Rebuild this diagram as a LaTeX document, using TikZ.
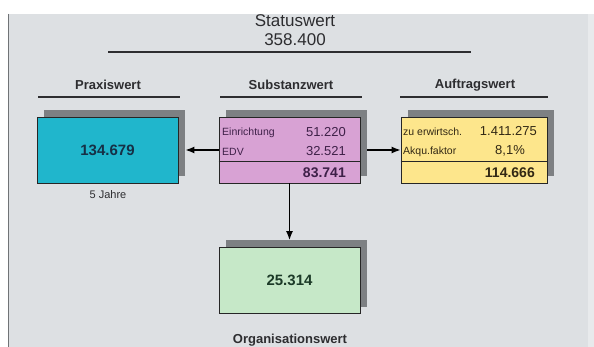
\documentclass[tikz,border=0pt]{standalone}
\usepackage{fontspec}
\setmainfont{Liberation Sans}
\usetikzlibrary{shadows,arrows.meta}

\definecolor{bggrey}{RGB}{221,224,227}
\definecolor{edgegrey}{RGB}{232,234,236}
\definecolor{shadowgrey}{RGB}{125,128,131}
\definecolor{headtext}{RGB}{45,45,48}
\definecolor{praxfill}{RGB}{32,182,204}
\definecolor{praxtext}{RGB}{22,48,70}
\definecolor{substfill}{RGB}{216,162,212}
\definecolor{substtext}{RGB}{62,32,72}
\definecolor{auftfill}{RGB}{253,230,140}
\definecolor{aufttext}{RGB}{50,40,20}
\definecolor{orgfill}{RGB}{198,232,200}
\definecolor{orgtext}{RGB}{28,58,40}

\tikzset{
  valbox/.style={draw=black!85, line width=0.9pt, minimum width=141pt,
    minimum height=66pt, inner sep=0pt,
    drop shadow={shadow xshift=7pt, shadow yshift=7pt, fill=shadowgrey, opacity=1}},
  head/.style={font=\bfseries\fontsize{13}{15}\selectfont, text=headtext},
  total/.style={font=\bfseries\fontsize{15}{17}\selectfont},
  rowlbl/.style={font=\fontsize{10.5}{12}\selectfont, anchor=west, inner sep=0pt},
  rowval/.style={font=\fontsize{13}{15}\selectfont, anchor=east, inner sep=0pt},
  rule/.style={line width=1.2pt, headtext},
  conn/.style={-{Latex[length=9pt,width=7pt]}, line width=1.3pt, black},
}

\begin{document}
\begin{tikzpicture}[x=1pt,y=-1pt]
\useasboundingbox (0,0) rectangle (594,347);
\clip (0,0) rectangle (594,347);
\fill[white] (0,0) rectangle (594,347);
\fill[bggrey] (9,14) rectangle (594,347);
\fill[edgegrey] (588,14) rectangle (594,347);
\draw[shadowgrey!90!black, line width=1pt] (8.5,14) -- (8.5,347);

% top
\node[font=\fontsize{17}{19}\selectfont, text=headtext](status) at (295,21){Statuswert};
\node[font=\fontsize{17}{19}\selectfont, text=headtext](statusval) at (295,40){358.400};
\draw[rule] (108,52) -- (471,52);

% headings
\node[head](praxhead) at (108,85){Praxiswert};
\node[head](substhead) at (291,85){Substanzwert};
\node[head](aufthead) at (475,85){Auftragswert};
\draw[rule] (38,97) -- (180,97);
\draw[rule] (220,97) -- (362,97);
\draw[rule] (400,97) -- (548,97);

% boxes
\node[valbox, fill=praxfill, text=praxtext, total](prax) at (107.5,150){134.679};
\node[valbox, fill=substfill](subst) at (289.5,150){};
\node[valbox, fill=auftfill, minimum width=146pt](auft) at (474,150){};
\node[valbox, fill=orgfill, text=orgtext, total](org) at (289.5,280.5){25.314};

\draw[line width=0.9pt, black!85] ([yshift=22pt]subst.south west) -- ([yshift=22pt]subst.south east);
\draw[line width=0.9pt, black!85] ([yshift=22pt]auft.south west) -- ([yshift=22pt]auft.south east);

\node[font=\fontsize{11}{13}\selectfont, text=headtext](jahre) at (108,195){5 Jahre};

% Substanzwert rows
\node[rowlbl, text=substtext](einr) at (222,133){Einrichtung};
\node[rowlbl, text=substtext](edv) at (222,152){EDV};
\node[rowval, text=substtext](einrval) at (346,132){51.220};
\node[rowval, text=substtext](edvval) at (346,151){32.521};
\node[rowval, text=substtext, font=\bfseries\fontsize{14}{16}\selectfont](substsum) at (346,173){83.741};

% Auftragswert rows
\node[rowlbl, text=aufttext](erw) at (403,132){zu erwirtsch.};
\node[rowlbl, text=aufttext](akqu) at (403,152){Akqu.faktor};
\node[rowval, text=aufttext](erwval) at (537,131){1.411.275};
\node[rowval, text=aufttext, anchor=center](akquval) at (510,151){8,1\%};
\node[rowval, text=aufttext, font=\bfseries\fontsize{14}{16}\selectfont](auftsum) at (535,173){114.666};

\node[head, anchor=south, inner sep=0.5pt](orghead) at (290,346.5){Organisationswert};

\path
(subst.west) edge[conn] ([xshift=7pt]prax.east)
([xshift=7pt]subst.east) edge[conn] (auft.west)
(subst.south) edge[conn] ([yshift=7pt]org.north);
\end{tikzpicture}
\end{document}
